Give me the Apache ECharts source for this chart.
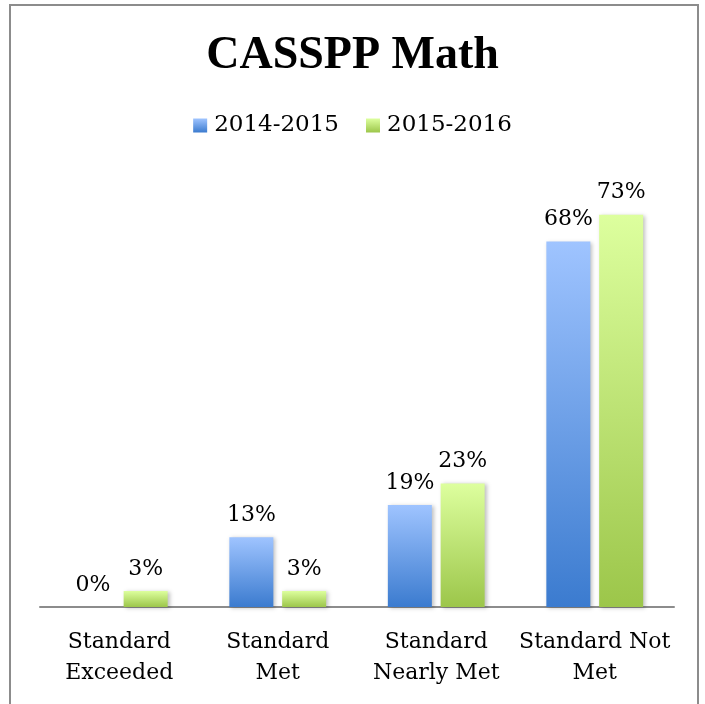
<!DOCTYPE html>
<html>
<head>
<meta charset="utf-8">
<script src="https://cdn.jsdelivr.net/npm/echarts@6/dist/echarts.min.js"></script>
<style>html,body{margin:0;padding:0;background:#fff;}#c{width:705px;height:704px;}</style>
</head>
<body>
<div id="c"></div>
<script>
var categories = ['Standard\nExceeded', 'Standard\nMet', 'Standard\nNearly Met', 'Standard Not\nMet'];
var seriesNames = ['2014-2015', '2015-2016'];
var values2014 = [0, 13, 19, 68];
var values2015 = [3, 3, 23, 73];

var serif = '"DejaVu Serif", serif';
function grad(top, bottom) {
  return new echarts.graphic.LinearGradient(0, 0, 0, 1, [
    {offset: 0, color: top}, {offset: 1, color: bottom}
  ]);
}
var chart = echarts.init(document.getElementById('c'), null, {renderer: 'canvas'});
var labelStyle = {
  show: true, position: 'top', distance: 11,
  formatter: '{c}%', fontFamily: serif, fontSize: 22, color: '#000'
};
chart.setOption({
  animation: false,
  graphic: [{
    type: 'rect', shape: {x: 10, y: 5, width: 688, height: 720},
    style: {fill: 'none', stroke: '#8c8c8c', lineWidth: 2}, z: 100
  }],
  title: {
    text: 'CASSPP Math', left: 'center', top: 28,
    textStyle: {fontFamily: '"Liberation Serif", serif', fontWeight: 'bold', fontSize: 46, color: '#000'}
  },
  legend: {
    top: 109, left: 'center', itemWidth: 14, itemHeight: 14, itemGap: 27,
    icon: 'rect',
    textStyle: {fontFamily: serif, fontSize: 23, color: '#000', padding: [0, 0, 0, 2]},
    data: seriesNames
  },
  grid: {left: 40, right: 31, top: 177, bottom: 97},
  xAxis: {
    type: 'category', data: categories,
    axisLine: {lineStyle: {color: '#8c8c8c', width: 2}},
    axisTick: {show: false},
    axisLabel: {fontFamily: serif, fontSize: 22, color: '#000', lineHeight: 31, margin: 20, interval: 0}
  },
  yAxis: {type: 'value', min: 0, max: 80, show: false, splitLine: {show: false}},
  series: [{
    name: seriesNames[0], type: 'bar', data: values2014,
    barWidth: 44, barGap: '20%',
    itemStyle: {color: grad('#9fc4ff', '#3b7bcf'), shadowColor: 'rgba(0,0,0,0.25)', shadowBlur: 4, shadowOffsetX: 2, shadowOffsetY: 1},
    label: labelStyle
  }, {
    name: seriesNames[1], type: 'bar', data: values2015,
    barWidth: 44,
    itemStyle: {color: grad('#ddff9e', '#9cc64a'), shadowColor: 'rgba(0,0,0,0.25)', shadowBlur: 4, shadowOffsetX: 2, shadowOffsetY: 1},
    label: labelStyle
  }]
});
</script>
</body>
</html>
